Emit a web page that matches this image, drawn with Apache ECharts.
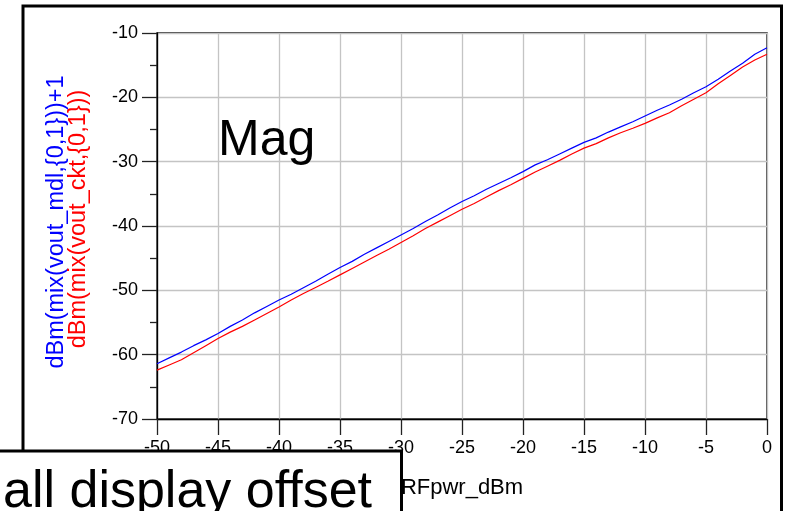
<!DOCTYPE html>
<html>
<head>
<meta charset="utf-8">
<script src="https://cdn.jsdelivr.net/npm/echarts@6/dist/echarts.min.js"></script>
<style>html,body{margin:0;padding:0;background:#fff;}#c{width:789px;height:511px;}</style>
</head>
<body>
<div id="c"></div>
<script>
const rfPwr = [-50,-49,-48,-47,-46,-45,-44,-43,-42,-41,-40,-39,-38,-37,-36,-35,-34,-33,-32,-31,-30,-29,-28,-27,-26,-25,-24,-23,-22,-21,-20,-19,-18,-17,-16,-15,-14,-13,-12,-11,-10,-9,-8,-7,-6,-5,-4,-3,-2,-1,0];
const mdlPlus1 = [-61.4,-60.5,-59.6,-58.6,-57.7,-56.7,-55.6,-54.6,-53.5,-52.5,-51.5,-50.6,-49.6,-48.6,-47.5,-46.45,-45.5,-44.4,-43.4,-42.4,-41.4,-40.4,-39.3,-38.3,-37.2,-36.2,-35.3,-34.3,-33.4,-32.5,-31.55,-30.5,-29.7,-28.8,-27.9,-27.0,-26.3,-25.4,-24.6,-23.8,-22.9,-22.0,-21.2,-20.3,-19.3,-18.35,-17.2,-15.9,-14.7,-13.3,-12.3];
const ckt = [-62.4,-61.6,-60.8,-59.7,-58.6,-57.5,-56.5,-55.6,-54.6,-53.6,-52.6,-51.5,-50.5,-49.55,-48.6,-47.6,-46.6,-45.6,-44.6,-43.6,-42.55,-41.5,-40.4,-39.4,-38.4,-37.4,-36.5,-35.5,-34.5,-33.6,-32.6,-31.6,-30.7,-29.8,-28.8,-27.9,-27.2,-26.3,-25.5,-24.8,-24.05,-23.2,-22.4,-21.3,-20.3,-19.3,-17.9,-16.6,-15.3,-14.2,-13.3];
const xTitle = 'RFpwr_dBm';
const yTitleBlue = 'dBm(mix(vout_mdl,{0,1}))+1';
const yTitleRed = 'dBm(mix(vout_ckt,{0,1}))';
const annotation = 'Mag';
const overlayText = 'all display offset';

const FONT = '"Liberation Sans", Arial, sans-serif';
const chart = echarts.init(document.getElementById('c'), null, {renderer: 'canvas'});
chart.setOption({
  animation: false,
  backgroundColor: '#fff',
  grid: {left: 157, top: 33, right: 22, bottom: 92, show: true, borderColor: '#000', borderWidth: 1.3, backgroundColor: 'transparent'},
  xAxis: {
    type: 'value', min: -50, max: 0, interval: 5,
    name: xTitle, nameLocation: 'middle', nameGap: 58,
    nameTextStyle: {fontFamily: FONT, fontSize: 22, color: '#000'},
    axisLine: {show: true, onZero: false, lineStyle: {color: '#000', width: 1.3}},
    axisTick: {show: true, length: 16, lineStyle: {color: '#222', width: 1.3}},
    axisLabel: {fontFamily: FONT, fontSize: 18, color: '#000', margin: 20, showMinLabel: true, showMaxLabel: true},
    splitLine: {show: true, lineStyle: {color: '#c4c4c4', width: 1.3}}
  },
  yAxis: {
    type: 'value', min: -70, max: -10, interval: 10,
    axisLine: {show: true, onZero: false, lineStyle: {color: '#000', width: 1.3}},
    axisTick: {show: true, length: 15, lineStyle: {color: '#222', width: 1.3}},
    minorTick: {show: true, splitNumber: 2, length: 7, lineStyle: {color: '#222', width: 1.3}},
    axisLabel: {fontFamily: FONT, fontSize: 18, color: '#000', margin: 19},
    splitLine: {show: true, lineStyle: {color: '#c4c4c4', width: 1.3}}
  },
  series: [
    {type: 'line', name: yTitleRed, data: rfPwr.map((x, i) => [x, ckt[i]]), showSymbol: false, lineStyle: {color: '#ff0000', width: 1.2}, itemStyle: {color: '#ff0000'}, z: 3},
    {type: 'line', name: yTitleBlue, data: rfPwr.map((x, i) => [x, mdlPlus1[i]]), showSymbol: false, lineStyle: {color: '#0000ff', width: 1.2}, itemStyle: {color: '#0000ff'}, z: 4}
  ],
  graphic: [
    {type: 'rect', z: 100, shape: {x: 23, y: 6, width: 758.5, height: 600}, style: {fill: 'none', stroke: '#000', lineWidth: 3}},
    {type: 'text', z: 50, x: 57, y: 222, rotation: Math.PI / 2, style: {text: yTitleBlue, x: 0, y: 0, fill: '#0000ff', fontFamily: FONT, fontSize: 23.5, align: 'center', verticalAlign: 'middle'}},
    {type: 'text', z: 50, x: 79, y: 219, rotation: Math.PI / 2, style: {text: yTitleRed, x: 0, y: 0, fill: '#ff0000', fontFamily: FONT, fontSize: 23.5, align: 'center', verticalAlign: 'middle'}},
    {type: 'text', z: 50, x: 218, y: 141, style: {text: annotation, fill: '#000', fontFamily: FONT, fontSize: 50, align: 'left', verticalAlign: 'middle'}},
    {type: 'rect', z: 110, shape: {x: -10, y: 451, width: 411.5, height: 100}, style: {fill: '#fff', stroke: '#000', lineWidth: 3}},
    {type: 'text', z: 111, x: 3, y: 493, style: {text: overlayText, fill: '#000', fontFamily: FONT, fontSize: 52, align: 'left', verticalAlign: 'middle'}}
  ]
});
</script>
</body>
</html>
